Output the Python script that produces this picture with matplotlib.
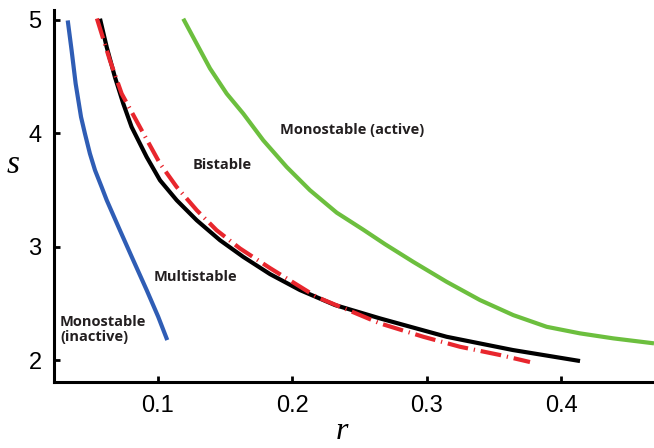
import matplotlib.pyplot as plt

# boundary curves in the (r, s) plane
blue_r = [0.0329, 0.0358, 0.0388, 0.0428, 0.0457, 0.0494, 0.0532, 0.0581, 0.0619, 0.0717,
          0.0816, 0.0916, 0.1002, 0.1069]
blue_s = [4.996, 4.731, 4.438, 4.144, 3.997, 3.821, 3.674, 3.527, 3.410, 3.145,
          2.881, 2.617, 2.381, 2.176]

black_r = [0.0569, 0.0619, 0.0680, 0.0742, 0.0804, 0.0916, 0.1015, 0.1139, 0.1288, 0.1461,
           0.1634, 0.1833, 0.2056, 0.2316, 0.2651, 0.3146, 0.3639, 0.4138]
black_s = [5.011, 4.760, 4.496, 4.262, 4.056, 3.791, 3.586, 3.410, 3.233, 3.057,
           2.910, 2.758, 2.617, 2.485, 2.367, 2.205, 2.088, 1.991]

red_r = [0.0546, 0.0643, 0.0730, 0.0879, 0.1015, 0.1139, 0.1288, 0.1436, 0.1610, 0.1833,
         0.2182, 0.2651, 0.2973, 0.3245, 0.3543, 0.3766]
red_s = [5.013, 4.643, 4.350, 4.026, 3.733, 3.527, 3.322, 3.145, 2.984, 2.811,
         2.555, 2.323, 2.205, 2.117, 2.044, 1.982]

green_r = [0.1188, 0.1288, 0.1387, 0.1511, 0.1634, 0.1783, 0.1957, 0.2130, 0.2329, 0.2526, 0.2688,
           0.2898, 0.3146, 0.3394, 0.3642, 0.3890, 0.4138, 0.4385, 0.4688]
green_s = [5.011, 4.790, 4.572, 4.350, 4.174, 3.938, 3.703, 3.498, 3.300, 3.150, 3.022,
           2.866, 2.690, 2.529, 2.396, 2.293, 2.235, 2.191, 2.147]

region_names = ["Monostable (active)", "Bistable", "Multistable", "Monostable\n(inactive)"]
region_r = [0.2442, 0.148, 0.1275, 0.0271]
region_s = [4.026, 3.718, 2.73, 2.273]

xticks = [0.1, 0.2, 0.3, 0.4]
yticks = [2, 3, 4, 5]

fig = plt.figure(figsize=(6.54, 4.48), dpi=100)
ax = fig.add_axes([54 / 654, 66 / 448, 600 / 654, 372 / 448])

line_kw = dict(lw=3.0, solid_capstyle="butt", solid_joinstyle="round")
ax.plot(blue_r, blue_s, color="#2f5db5", **line_kw)
ax.plot(green_r, green_s, color="#6cbf3e", **line_kw)
ax.plot(black_r, black_s, color="black", **line_kw)
ax.plot(red_r, red_s, color="#e8262d", lw=3.0, linestyle=(0, (5, 1.4, 0.3, 1.4)))

for i, name in enumerate(region_names):
    ha = "left" if i == 3 else "center"
    ax.text(region_r[i], region_s[i], name, ha=ha, va="center", fontsize=10.5,
            fontweight="bold", family="Open Sans", color="#231f20", linespacing=1.1)

ax.set_xlim(0.0227, 0.4688)
ax.set_ylim(1.806, 5.088)
ax.set_xticks(xticks)
ax.set_xticklabels([str(t) for t in xticks])
ax.set_yticks(yticks)

for side in ["top", "right"]:
    ax.spines[side].set_visible(False)
for side in ["left", "bottom"]:
    ax.spines[side].set_linewidth(2.2)

ax.tick_params(direction="in", length=4, width=2, labelsize=17, pad=9)
for lab in ax.get_xticklabels() + ax.get_yticklabels():
    lab.set_family("Liberation Sans")

ax.set_xlabel("r", family="Liberation Serif", style="italic", fontsize=23, va="baseline")
ax.xaxis.set_label_coords(0.48, -0.152)
ax.set_ylabel("s", family="Liberation Serif", style="italic", fontsize=24, rotation=0,
              va="center", ha="center")
ax.yaxis.set_label_coords(-0.068, 0.583)

fig.savefig("out.png", dpi=100)
